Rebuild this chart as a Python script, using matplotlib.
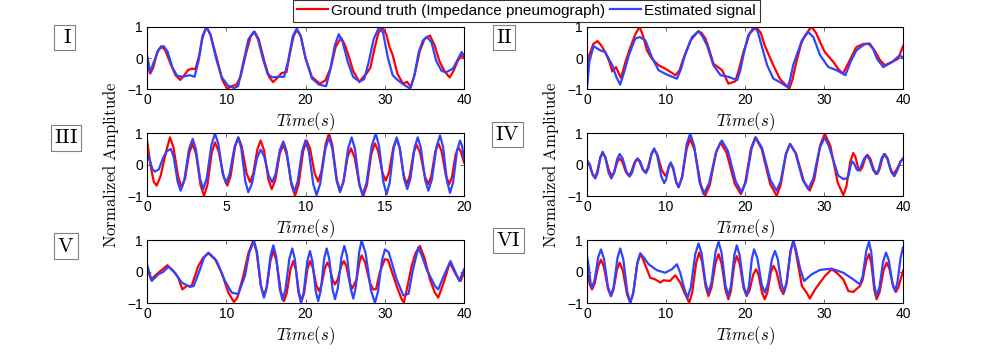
import numpy as np
import matplotlib
matplotlib.use('Agg')
import matplotlib.pyplot as plt

plt.rcParams['mathtext.fontset'] = 'cm'
plt.rcParams['font.family'] = ['Liberation Sans', 'DejaVu Sans']

# (time s, normalized amplitude), one list per curve
gt_1 = [(0.0,-0.15),(0.4,-0.5),(0.8,-0.3),(1.3,0.2),(1.8,0.38),(2.3,0.25),(3.0,-0.2),(3.6,-0.55),(4.2,-0.7),
        (4.7,-0.55),(5.2,-0.38),(5.7,-0.34),(6.1,-0.36),(6.6,0.1),(7.0,0.7),(7.5,0.98),(8.0,0.75),(8.8,0.0),
        (9.5,-0.7),(10.1,-0.98),(10.7,-0.9),(11.3,-0.85),(11.8,-0.6),(12.5,0.15),(13.1,0.7),(13.6,0.83),
        (14.1,0.6),(14.8,-0.1),(15.4,-0.6),(15.9,-0.77),(16.4,-0.65),(17.0,-0.48),(17.6,-0.45),(18.0,0.1),
        (18.5,0.7),(18.9,0.9),(19.4,0.7),(20.0,0.0),(20.8,-0.6),(21.8,-0.82),(22.5,-0.72),(23.2,-0.3),
        (23.8,0.35),(24.5,0.65),(25.0,0.4),(25.4,0.1),(26.0,-0.4),(26.8,-0.77),(27.3,-0.6),(27.7,-0.5),
        (28.2,-0.3),(28.7,0.3),(29.2,0.8),(29.7,0.98),(30.2,0.75),(30.6,0.35),(31.0,0.1),(31.6,-0.5),
        (32.3,-0.82),(32.8,-0.76),(33.3,-0.92),(33.8,-0.5),(34.4,0.2),(35.0,0.6),(35.7,0.72),(36.3,0.4),
        (36.9,-0.1),(37.6,-0.45),(38.2,-0.62),(38.7,-0.4),(39.2,-0.1),(39.7,0.08),(40.0,0.0)]
est_1 = [(0.0,0.1),(0.4,-0.45),(0.9,-0.1),(1.5,0.28),(2.1,0.38),(2.6,0.2),(3.2,-0.3),(3.8,-0.57),(4.5,-0.6),
         (5.4,-0.55),(6.0,-0.6),(6.5,-0.1),(7.0,0.65),(7.5,1.0),(8.0,0.75),(8.7,0.0),(9.4,-0.6),(10.2,-0.88),
         (11.0,-0.96),(11.5,-0.9),(12.1,-0.2),(12.8,0.6),(13.5,0.85),(14.0,0.6),(14.6,0.0),(15.2,-0.5),
         (15.8,-0.62),(16.5,-0.6),(17.3,-0.6),(17.8,-0.1),(18.4,0.7),(18.9,0.94),(19.4,0.7),(20.0,0.0),
         (20.8,-0.65),(21.7,-0.85),(22.6,-0.9),(23.1,-0.4),(23.7,0.4),(24.2,0.76),(24.7,0.5),(25.3,-0.1),
         (26.0,-0.6),(26.8,-0.75),(27.4,-0.68),(28.0,-0.1),(28.6,0.6),(29.3,1.0),(29.8,0.8),(30.4,0.0),
         (31.0,-0.55),(31.6,-0.7),(32.4,-0.85),(33.2,-0.98),(33.7,-0.6),(34.3,0.2),(34.8,0.55),(35.3,0.68),
         (35.9,0.5),(36.5,-0.1),(37.2,-0.42),(37.8,-0.45),(38.6,-0.34),(39.2,-0.05),(39.7,0.19),(40.0,0.08)]

gt_2 = [(0.0,-0.7),(0.3,0.1),(0.8,0.45),(1.35,0.54),(1.8,0.4),(2.3,0.19),(2.8,-0.1),(3.2,-0.43),(3.67,-0.29),
        (4.3,-0.64),(4.9,-0.1),(5.5,0.35),(6.1,0.75),(6.66,1.0),(7.1,0.7),(7.6,0.24),(8.2,-0.02),(9.06,-0.23),
        (9.9,-0.34),(10.6,-0.45),(11.2,-0.55),(11.7,-0.4),(12.2,-0.02),(13.1,0.56),(14.1,0.86),(14.5,0.8),
        (15.0,0.62),(15.5,0.25),(16.0,-0.18),(17.1,-0.39),(17.9,-0.82),(18.75,-0.75),(19.2,-0.4),(19.8,0.19),
        (20.6,0.78),(21.4,1.0),(22.0,0.8),(22.5,0.4),(23.4,-0.13),(24.4,-0.66),(25.1,-0.85),(25.6,-0.98),
        (26.0,-0.7),(26.5,-0.13),(27.1,0.45),(27.6,0.72),(28.4,1.0),(29.0,0.8),(29.5,0.51),(30.1,0.19),
        (31.2,-0.13),(31.8,-0.35),(32.4,-0.5),(33.2,-0.1),(34.1,0.35),(35.0,0.45),(35.8,0.46),(36.5,0.2),
        (37.1,-0.07),(37.7,-0.23),(38.6,-0.13),(39.4,-0.02),(40.0,0.38)]
est_2 = [(0.0,-0.98),(0.3,-0.1),(0.84,0.38),(1.7,0.24),(2.3,0.19),(3.2,-0.23),(3.7,-0.6),(4.2,-0.85),(4.7,-0.45),
         (5.3,0.09),(6.1,0.62),(6.7,0.67),(7.4,0.56),(8.2,0.03),(9.06,-0.39),(10.1,-0.53),(11.4,-0.66),
         (11.9,-0.35),(12.4,0.09),(13.3,0.67),(14.1,0.85),(14.6,0.7),(15.2,0.4),(16.0,-0.23),(16.9,-0.55),
         (17.9,-0.6),(19.0,-0.71),(19.4,-0.4),(19.8,0.09),(20.4,0.72),(21.15,1.0),(21.6,0.85),(22.1,0.4),
         (22.8,-0.23),(23.6,-0.66),(24.4,-0.77),(25.4,-0.93),(25.7,-0.7),(26.1,-0.23),(27.2,0.56),(28.0,0.83),
         (28.65,0.67),(29.5,0.09),(30.55,-0.29),(31.6,-0.39),(32.7,-0.55),(33.4,-0.1),(34.1,0.24),(35.0,0.42),
         (35.6,0.46),(36.2,0.3),(36.7,-0.02),(37.5,-0.29),(38.6,-0.13),(39.6,0.09),(40.0,0.0)]

gt_3 = [(0.0,0.77),(0.25,-0.1),(0.43,-0.55),(0.61,-0.67),(0.86,-0.36),(1.20,0.41),(1.45,0.87),(1.67,0.55),
        (1.97,-0.40),(2.19,-0.72),(2.40,-0.44),(2.67,0.38),(2.88,0.66),(3.10,0.33),(3.38,-0.66),(3.6,-0.99),
        (3.81,-0.65),(4.08,0.37),(4.29,0.71),(4.52,0.43),(4.84,-0.39),(5.07,-0.67),(5.28,-0.36),(5.55,0.56),
        (5.76,0.87),(5.98,0.58),(6.28,-0.27),(6.5,-0.56),(6.70,-0.29),(6.97,0.50),(7.17,0.77),(7.38,0.46),
        (7.66,-0.47),(7.87,-0.78),(8.09,-0.50),(8.38,0.36),(8.6,0.64),(8.82,0.31),(9.12,-0.66),(9.34,-0.99),
        (9.56,-0.64),(9.85,0.42),(10.07,0.77),(10.29,0.51),(10.58,-0.28),(10.8,-0.54),(11.00,-0.23),
        (11.28,0.68),(11.48,0.99),(11.69,0.63),(11.97,-0.47),(12.18,-0.83),(12.39,-0.56),(12.66,0.25),
        (12.87,0.52),(13.10,0.22),(13.42,-0.69),(13.65,-0.99),(13.87,-0.66),(14.16,0.35),(14.38,0.68),
        (14.58,0.44),(14.86,-0.27),(15.06,-0.51),(15.27,-0.24),(15.54,0.55),(15.75,0.82),(15.94,0.53),
        (16.19,-0.33),(16.38,-0.62),(16.57,-0.37),(16.82,0.38),(17.01,0.63),(17.23,0.38),(17.53,-0.37),
        (17.75,-0.62),(17.94,-0.36),(18.19,0.42),(18.38,0.68),(18.59,0.42),(18.86,-0.36),(19.07,-0.62),
        (19.24,-0.39),(19.47,0.32),(19.64,0.55),(19.8,0.42),(20.0,0.07)]
est_3 = [(0.0,0.39),(0.2,0.1),(0.35,-0.15),(0.5,-0.22),(0.75,-0.15),(1.0,0.2),(1.25,0.43),(1.51,0.5),
         (1.69,0.23),(1.94,-0.56),(2.12,-0.83),(2.35,-0.50),(2.65,0.49),(2.88,0.82),(3.08,0.50),(3.35,-0.46),
         (3.55,-0.78),(3.77,-0.43),(4.07,0.64),(4.29,0.99),(4.50,0.67),(4.77,-0.27),(4.98,-0.59),(5.21,-0.30),
         (5.53,0.58),(5.76,0.87),(5.95,0.52),(6.20,-0.53),(6.39,-0.88),(6.62,-0.61),(6.94,0.21),(7.17,0.48),
         (7.39,0.27),(7.68,-0.35),(7.9,-0.56),(8.11,-0.30),(8.39,0.48),(8.6,0.74),(8.81,0.42),(9.09,-0.54),
         (9.3,-0.86),(9.51,-0.53),(9.79,0.44),(10.0,0.77),(10.21,0.42),(10.49,-0.62),(10.7,-0.97),(10.93,-0.60),
         (11.25,0.50),(11.48,0.87),(11.69,0.52),(11.97,-0.53),(12.18,-0.88),(12.40,-0.53),(12.69,0.52),
         (12.91,0.87),(13.12,0.50),(13.39,-0.60),(13.6,-0.97),(13.85,-0.58),(14.18,0.60),(14.43,0.99),
         (14.64,0.60),(14.91,-0.55),(15.12,-0.94),(15.31,-0.58),(15.56,0.51),(15.75,0.87),(15.95,0.54),
         (16.22,-0.45),(16.42,-0.78),(16.62,-0.45),(16.88,0.54),(17.08,0.87),(17.28,0.53),(17.55,-0.49),
         (17.75,-0.83),(17.97,-0.48),(18.27,0.58),(18.49,0.93),(18.68,0.56),(18.93,-0.53),(19.12,-0.9),
         (19.31,-0.57),(19.56,0.44),(19.75,0.77),(19.88,0.6),(20.0,0.18)]

gt_4 = [(0.0,0.13),(0.3,0.02),(0.68,-0.3),(0.97,-0.4),(1.27,-0.25),(1.68,0.22),(1.98,0.37),(2.33,0.23),
        (2.81,-0.21),(3.16,-0.35),(3.45,-0.24),(3.84,0.09),(4.13,0.2),(4.47,0.09),(4.93,-0.24),(5.27,-0.35),
        (5.59,-0.24),(6.01,0.07),(6.32,0.18),(6.64,0.10),(7.06,-0.16),(7.37,-0.24),(7.71,-0.10),(8.16,0.34),
        (8.5,0.48),(8.92,0.31),(9.48,-0.18),(9.9,-0.35),(10.11,-0.28),(10.39,-0.05),(10.6,0.02),(10.9,-0.13),
        (11.3,-0.57),(11.6,-0.72),(12.04,-0.41),(12.62,0.51),(13.06,0.82),(13.63,0.46),(14.39,-0.63),
        (14.96,-0.99),(15.54,-0.65),(16.32,0.37),(16.9,0.71),(17.67,0.38),(18.7,-0.61),(19.47,-0.94),
        (20.02,-0.58),(20.75,0.51),(21.3,0.87),(22.11,0.5),(23.19,-0.62),(24.0,-0.99),(24.51,-0.66),
        (25.19,0.33),(25.7,0.66),(26.45,0.36),(27.45,-0.53),(28.2,-0.83),(28.77,-0.47),(29.53,0.63),
        (30.1,0.99),(30.8,0.6),(31.74,-0.58),(32.45,-0.97),(32.83,-0.70),(33.33,0.10),(33.7,0.37),
        (33.96,0.26),(34.30,-0.08),(34.55,-0.19),(34.84,-0.09),(35.22,0.21),(35.5,0.31),(35.86,0.19),
        (36.34,-0.18),(36.7,-0.3),(37.0,-0.17),(37.4,0.21),(37.7,0.34),(38.03,0.21),(38.47,-0.17),(38.8,-0.3),
        (39.2,-0.15),(39.7,0.1),(40.0,0.18)]
est_4 = [(0.0,0.13),(0.3,0.02),(0.75,-0.33),(1.05,-0.44),(1.33,-0.27),(1.70,0.24),(1.98,0.41),(2.31,0.24),
         (2.75,-0.27),(3.08,-0.44),(3.40,-0.28),(3.82,0.18),(4.13,0.34),(4.51,0.20),(5.02,-0.24),(5.4,-0.38),
         (5.7,-0.26),(6.1,0.08),(6.4,0.2),(6.72,0.11),(7.14,-0.18),(7.46,-0.27),(7.77,-0.11),(8.19,0.36),
         (8.5,0.52),(8.88,0.30),(9.40,-0.37),(9.78,-0.59),(10.03,-0.46),(10.35,-0.06),(10.6,0.07),(10.9,-0.09),
         (11.3,-0.56),(11.6,-0.72),(12.04,-0.38),(12.62,0.65),(13.06,0.99),(13.57,0.6),(14.24,-0.55),
         (14.75,-0.94),(15.45,-0.6),(16.37,0.43),(17.07,0.77),(17.83,0.44),(18.84,-0.55),(19.6,-0.88),
         (20.13,-0.53),(20.84,0.52),(21.37,0.87),(22.16,0.53),(23.21,-0.49),(24.0,-0.83),(24.51,-0.53),
         (25.19,0.36),(25.7,0.66),(26.39,0.37),(27.31,-0.49),(28.0,-0.78),(28.63,-0.45),(29.47,0.54),
         (30.1,0.87),(30.6,0.6),(31.8,-0.35),(32.45,-0.46),(32.9,-0.44),(33.1,-0.35),(33.4,0.0),(33.6,0.1),
         (33.8,0.04),(34.1,-0.13),(34.3,-0.19),(34.63,-0.09),(35.07,0.19),(35.4,0.29),(35.76,0.17),
         (36.24,-0.18),(36.6,-0.3),(36.9,-0.17),(37.3,0.21),(37.6,0.34),(37.99,0.20),(38.51,-0.23),(38.9,-0.37),
         (39.25,-0.2),(39.7,0.1),(40.0,0.2)]

gt_5 = [(0.0,0.13),(0.5,-0.24),(1.43,-0.03),(2.06,0.1),(2.57,0.21),(3.32,0.03),(3.95,-0.19),(4.46,-0.56),
        (5.0,-0.45),(5.63,-0.45),(6.48,0.19),(7.1,0.45),(7.74,0.59),(8.58,0.4),(9.42,-0.03),(10.26,-0.66),
        (10.97,-0.96),(11.4,-0.82),(12.15,-0.13),(12.8,0.6),(13.41,0.99),(13.82,0.64),(14.35,-0.42),
        (14.76,-0.77),(15.11,-0.48),(15.59,0.37),(15.94,0.66),(16.34,0.34),(16.88,-0.61),(17.28,-0.93),
        (17.63,-0.68),(18.11,0.09),(18.46,0.34),(18.77,0.09),(19.19,-0.68),(19.5,-0.93),(19.82,-0.68),
        (20.24,0.09),(20.56,0.34),(20.9,0.15),(21.36,-0.42),(21.7,-0.61),(22.02,-0.43),(22.44,0.11),
        (22.75,0.29),(23.04,0.15),(23.43,-0.26),(23.72,-0.4),(24.06,-0.25),(24.51,0.19),(24.85,0.34),
        (25.17,0.17),(25.59,-0.36),(25.9,-0.53),(26.45,-0.24),(26.8,0.3),(27.08,0.52),(27.52,0.30),
        (28.11,-0.34),(28.55,-0.56),(28.9,-0.55),(29.4,0.0),(30.0,0.4),(30.4,0.38),(31.5,-0.45),(32.1,-0.85),
        (32.4,-0.98),(32.75,-0.6),(33.4,0.19),(33.9,0.6),(34.44,0.82),(35.0,0.45),(35.7,-0.24),(36.3,-0.65),
        (36.75,-0.82),(37.5,-0.3),(38.2,0.29),(39.0,-0.1),(39.57,-0.29),(40.0,-0.03)]
est_5 = [(0.0,0.24),(0.6,-0.29),(1.43,-0.08),(2.06,0.0),(2.7,0.16),(3.53,-0.03),(4.37,-0.34),(5.42,-0.48),
         (5.9,-0.45),(6.69,0.08),(7.2,0.45),(7.74,0.61),(8.2,0.5),(8.8,0.34),(9.84,-0.29),(10.68,-0.66),
         (11.52,-0.71),(12.36,-0.13),(12.9,0.6),(13.5,0.99),(13.88,0.63),(14.38,-0.46),(14.76,-0.82),
         (15.11,-0.49),(15.59,0.51),(15.94,0.84),(16.29,0.49),(16.75,-0.54),(17.1,-0.89),(17.47,-0.56),
         (17.96,0.41),(18.33,0.74),(18.66,0.40),(19.10,-0.64),(19.43,-0.98),(19.77,-0.65),(20.22,0.33),
         (20.56,0.66),(20.87,0.34),(21.29,-0.61),(21.6,-0.93),(21.92,-0.60),(22.35,0.41),(22.67,0.74),
         (22.99,0.42),(23.41,-0.55),(23.72,-0.87),(24.07,-0.53),(24.55,0.48),(24.9,0.82),(25.24,0.49),
         (25.69,-0.52),(26.03,-0.85),(26.35,-0.48),(26.77,0.62),(27.08,0.99),(27.58,0.60),(28.26,-0.59),
         (28.76,-0.98),(29.14,-0.64),(29.65,0.37),(30.03,0.71),(30.5,0.62),(31.5,-0.24),(32.34,-0.75),
         (33.0,-0.7),(33.5,0.0),(34.23,0.77),(34.7,0.5),(35.28,0.08),(36.33,-0.45),(36.75,-0.56),(37.5,-0.1),
         (38.3,0.34),(39.4,-0.29),(40.0,0.08)]

gt_6 = [(0.0,0.08),(0.35,-0.4),(0.63,-0.56),(0.97,-0.37),(1.43,0.19),(1.77,0.38),(2.15,0.15),(2.65,-0.54),
        (3.03,-0.77),(3.36,-0.56),(3.80,0.08),(4.13,0.29),(4.54,0.04),(5.08,-0.73),(5.48,-0.98),(5.86,-0.67),
        (6.36,0.25),(6.74,0.56),(7.0,0.45),(7.59,0.08),(8.0,-0.19),(8.64,-0.24),(9.27,-0.34),(9.7,-0.27),
        (10.5,-0.29),(11.17,-0.11),(11.8,-0.34),(12.43,-0.71),(12.94,-0.98),(13.32,-0.66),(13.82,0.29),
        (14.2,0.61),(14.55,0.33),(15.03,-0.49),(15.38,-0.77),(15.76,-0.50),(16.27,0.29),(16.65,0.56),
        (17.03,0.27),(17.53,-0.58),(17.9,-0.87),(18.22,-0.60),(18.64,0.23),(18.96,0.5),(19.33,0.25),
        (19.83,-0.52),(20.2,-0.77),(20.56,-0.60),(21.04,-0.09),(21.4,0.08),(21.73,-0.11),(22.17,-0.68),
        (22.5,-0.87),(22.83,-0.66),(23.27,-0.02),(23.6,0.19),(23.98,0.01),(24.48,-0.53),(24.86,-0.71),
        (25.24,-0.37),(25.75,0.65),(26.13,0.99),(26.45,0.6),(27.2,-0.45),(27.8,-0.66),(28.2,-0.85),
        (28.87,-0.56),(29.5,-0.34),(30.13,-0.13),(30.97,0.08),(31.6,-0.03),(32.45,-0.24),(33.08,-0.61),
        (33.7,-0.64),(34.55,-0.45),(34.9,-0.25),(35.36,0.36),(35.7,0.56),(35.99,0.27),(36.37,-0.58),
        (36.66,-0.87),(37.04,-0.64),(37.55,0.06),(37.93,0.29),(38.28,0.10),(38.75,-0.45),(39.1,-0.64),
        (39.4,-0.5),(39.75,-0.2),(40.0,0.03)]
est_6 = [(0.0,0.5),(0.2,0.2),(0.45,-0.35),(0.63,-0.5),(0.97,-0.26),(1.43,0.47),(1.77,0.71),(2.15,0.41),
         (2.65,-0.47),(3.03,-0.77),(3.38,-0.47),(3.86,0.44),(4.21,0.74),(4.59,0.40),(5.10,-0.64),(5.48,-0.98),
         (5.86,-0.67),(6.36,0.28),(6.74,0.59),(7.2,0.45),(7.8,0.24),(8.85,0.05),(9.9,-0.03),(10.75,0.08),
         (11.38,0.24),(11.8,-0.03),(12.35,-0.56),(12.73,-0.82),(13.15,-0.48),(13.70,0.56),(14.12,0.9),
         (14.50,0.59),(15.0,-0.35),(15.38,-0.66),(15.76,-0.34),(16.27,0.63),(16.65,0.95),(17.03,0.61),
         (17.53,-0.43),(17.9,-0.77),(18.22,-0.45),(18.64,0.52),(18.96,0.84),(19.33,0.52),(19.83,-0.43),
         (20.2,-0.75),(20.49,-0.46),(20.87,0.42),(21.15,0.71),(21.56,0.44),(22.10,-0.39),(22.5,-0.66),
         (22.89,-0.40),(23.41,0.40),(23.8,0.66),(24.15,0.40),(24.61,-0.38),(24.95,-0.64),(25.30,-0.31),
         (25.78,0.66),(26.13,0.99),(26.45,0.7),(27.0,0.08),(27.48,-0.29),(28.45,-0.08),(29.5,0.06),(30.97,0.1),
         (32.45,-0.03),(33.7,-0.24),(34.55,-0.4),(34.9,-0.13),(35.36,0.68),(35.7,0.95),(35.99,0.61),
         (36.37,-0.43),(36.66,-0.77),(37.02,-0.49),(37.49,0.33),(37.85,0.61),(38.2,0.37),(38.66,-0.37),
         (39.0,-0.61),(39.3,-0.33),(39.7,0.45),(40.0,0.77)]

panel_names = ['I', 'II', 'III', 'IV', 'V', 'VI']
x_max = [40, 40, 20, 40, 40, 40]
x_ticks = [[0, 10, 20, 30, 40]] * 2 + [[0, 5, 10, 15, 20]] + [[0, 10, 20, 30, 40]] * 3
ground_truth = [gt_1, gt_2, gt_3, gt_4, gt_5, gt_6]
estimated = [est_1, est_2, est_3, est_4, est_5, est_6]

legend_labels = ['Ground truth (Impedance pneumograph)', 'Estimated signal']
red = '#ff0000'
blue = '#3044ff'

W, H = 998, 357
fig = plt.figure(figsize=(W / 100, H / 100), dpi=100)

# axes boxes in pixels
col_x = [(147, 464), (587, 903)]
row_y = [(26.7, 89.3), (133.3, 196), (240.3, 303.3)]
# numeral box centres in pixels
tag_pos = [(64.5, 37.5), (504, 37.5), (66, 138), (507.5, 134.5), (66, 246), (508.5, 240.5)]

lines = []
for ii in range(6):
    r, c = ii // 2, ii % 2
    x0, x1 = col_x[c]
    y0, y1 = row_y[r]
    ax = fig.add_axes([x0 / W, 1 - y1 / H, (x1 - x0) / W, (y1 - y0) / H])
    g = np.array(ground_truth[ii]).T
    e = np.array(estimated[ii]).T
    l1, = ax.plot(g[0], g[1], color=red, lw=1.6)
    l2, = ax.plot(e[0], e[1], color=blue, lw=1.6)
    lines = [l1, l2]
    ax.set_xlim(0, x_max[ii])
    ax.set_ylim(-1, 1)
    ax.set_xticks(x_ticks[ii])
    ax.set_yticks([-1, 0, 1])
    ax.tick_params(direction='in', length=3, width=0.6, top=True, right=True,
                   labelsize=10, pad=3, color='#555555')
    for s in ax.spines.values():
        s.set_linewidth(0.8)
    ax.set_xlabel(r'$Time(s)$', fontsize=12, labelpad=2)

    tx, ty = tag_pos[ii]
    name = r'$\mathrm{\ I\ }$' if panel_names[ii] == 'I' else r'$\mathrm{' + panel_names[ii] + '}$'
    fig.text(tx / W, 1 - ty / H, name, fontsize=15, ha='center', va='center',
             bbox=dict(boxstyle='square,pad=0.15', fc='white', ec='#808080', lw=0.8))

for lx in [111, 551]:
    fig.text(lx / W, 1 - 165 / H, r'$\mathrm{Normalized\ Amplitude}$', rotation=90,
             fontsize=12, ha='center', va='center')

leg = fig.legend(lines, legend_labels, loc='upper center', bbox_to_anchor=(526.5 / W, 1.0),
                 ncol=2, fontsize=11, frameon=True, fancybox=False, edgecolor='black',
                 handlelength=2.0, handletextpad=0.25, columnspacing=0.3, borderpad=0.25,
                 borderaxespad=0)
leg.get_frame().set_linewidth(0.8)

fig.savefig('out.png', dpi=100)
